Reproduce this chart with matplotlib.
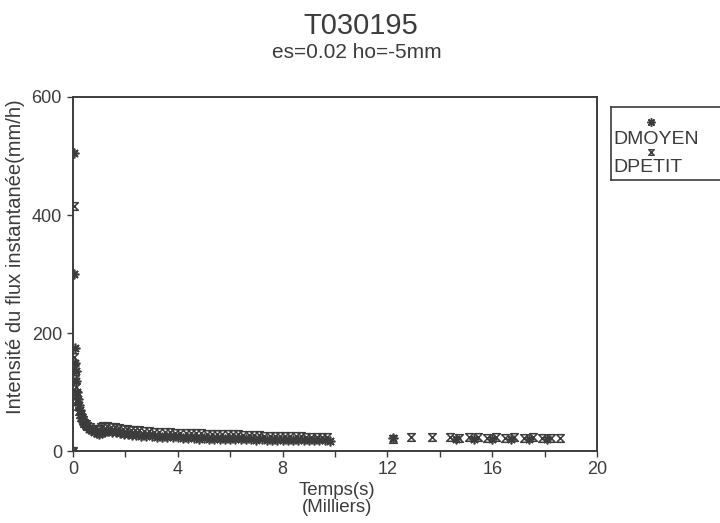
import numpy as np
import matplotlib
matplotlib.use("Agg")
import matplotlib.pyplot as plt
from matplotlib.path import Path

plt.rcParams['font.family'] = ['Liberation Sans', 'DejaVu Sans']

# temps en milliers de secondes, intensite en mm/h
t_moyen = [0.0, 0.02, 0.04, 0.06, 0.08, 0.10, 0.12, 0.15, 0.18, 0.21,
           0.25, 0.3, 0.35, 0.4, 0.45, 0.5, 0.6, 0.7, 0.8, 0.9,
           1.0, 1.1, 1.2, 1.35, 1.5, 1.65, 1.8, 1.95, 2.1, 2.25, 2.4,
           2.6, 2.8, 3.0, 3.2, 3.4, 3.6, 3.8, 4.0, 4.2, 4.4,
           4.6, 4.8, 5.0, 5.2, 5.4, 5.6, 5.8, 6.0, 6.2, 6.4,
           6.6, 6.8, 7.0, 7.2, 7.4, 7.6, 7.8, 8.0, 8.2, 8.4,
           8.6, 8.8, 9.0, 9.2, 9.4, 9.6, 9.8,
           12.2, 14.6, 15.3, 16.0, 16.7, 17.4, 18.1]
i_moyen = [0, 505, 300, 175, 150, 135, 118, 100, 88, 78,
           70, 62, 56, 50, 46, 42, 38, 35, 32, 30,
           29, 30, 33, 34, 33, 32, 30, 29, 28, 27, 27,
           26, 25, 25, 24, 24, 23, 23, 23, 22, 22,
           22, 21, 22, 21, 21, 21, 20, 21, 20, 20,
           20, 20, 19, 20, 19, 19, 19, 19, 19, 18,
           19, 18, 18, 18, 18, 18, 17,
           22, 21, 20, 21, 20, 21, 20]

t_petit = [0.0, 0.03, 0.05, 0.07, 0.09, 0.11, 0.14, 0.17, 0.2, 0.23,
           0.27, 0.32, 0.37, 0.42, 0.48, 0.55, 0.65, 0.75, 0.85, 0.95,
           1.05, 1.15, 1.3, 1.45, 1.6, 1.75, 1.9, 2.05, 2.2, 2.35, 2.5,
           2.7, 2.9, 3.1, 3.3, 3.5, 3.7, 3.9, 4.1, 4.3, 4.5,
           4.7, 4.9, 5.1, 5.3, 5.5, 5.7, 5.9, 6.1, 6.3, 6.5,
           6.7, 6.9, 7.1, 7.3, 7.5, 7.7, 7.9, 8.1, 8.3, 8.5,
           8.7, 8.9, 9.1, 9.3, 9.5, 9.7,
           12.2, 12.9, 13.7,
           14.4, 14.75, 15.1, 15.45, 15.8, 16.15, 16.5, 16.85, 17.2, 17.55,
           17.9, 18.25, 18.6]
i_petit = [0, 415, 160, 140, 122, 108, 95, 85, 76, 68,
           62, 57, 52, 48, 45, 42, 40, 38, 37, 38,
           40, 42, 42, 41, 40, 39, 38, 37, 36, 35, 35,
           34, 34, 33, 33, 32, 32, 31, 31, 31, 30,
           30, 30, 29, 29, 29, 28, 28, 28, 28, 27,
           27, 27, 27, 26, 26, 26, 26, 25, 25, 25,
           25, 24, 24, 24, 24, 23,
           21, 24, 23,
           23, 22, 23, 23, 22, 23, 22, 23, 22, 23,
           22, 22, 22]

xticks = [0, 4, 8, 12, 16, 20]
yticks = [0, 200, 400, 600]

ink = '#3c3c3c'
hourglass = Path([(-1, 1), (1, 1), (-1, -1), (1, -1), (-1, 1)],
                 [Path.MOVETO, Path.LINETO, Path.LINETO, Path.LINETO, Path.CLOSEPOLY])
star = (8, 2, 0)

W, H = 720, 523
fig = plt.figure(figsize=(W / 100, H / 100), dpi=100)
ax = fig.add_axes([73 / W, 1 - 451 / H, 524 / W, 354 / H])

ax.plot(t_moyen, i_moyen, ls='none', marker=star, ms=7, mew=1.2, color=ink)
ax.plot(t_petit, i_petit, ls='none', marker=hourglass, ms=5.5, mew=1.1,
        mfc='none', mec=ink)

ax.set_xlim(0, 20)
ax.set_ylim(0, 600)
ax.set_xticks(xticks)
ax.set_xticks([2, 6, 10, 14, 18], minor=True)
ax.set_yticks(yticks)
ax.tick_params(axis='both', which='both', direction='out', length=4, width=1,
               color=ink, labelcolor=ink, labelsize=13)
ax.tick_params(axis='y', pad=4)
for s in ax.spines.values():
    s.set_color(ink)
    s.set_linewidth(1.4)

fig.text(361 / W, 1 - 26 / H, 'T030195', ha='center', va='center', fontsize=21, color=ink)
fig.text(357 / W, 1 - 52 / H, 'es=0.02 ho=-5mm', ha='center', va='center', fontsize=15, color=ink)
fig.text(337 / W, 1 - 499 / H, 'Temps(s)\n(Milliers)', ha='center', va='center',
         fontsize=13.5, color=ink, linespacing=1.05)
fig.text(16 / W, 1 - 257 / H, 'Intensité du flux instantanée(mm/h)', rotation=90,
         ha='center', va='center', fontsize=14.5, color=ink)

# legende : symbole au-dessus du libelle, cadre coupe a droite
lax = fig.add_axes([611 / W, 1 - 180 / H, 140 / W, 73 / H])
lax.set_xlim(0, 140)
lax.set_ylim(73, 0)
lax.set_xticks([])
lax.set_yticks([])
for s in lax.spines.values():
    s.set_color(ink)
    s.set_linewidth(1.2)
lax.plot([40], [15], ls='none', marker=star, ms=6, mew=1.1, color=ink)
lax.plot([40], [45], ls='none', marker=hourglass, ms=4, mew=1.0, mfc='none', mec=ink)
lax.text(2, 32, 'DMOYEN', ha='left', va='center', fontsize=14, color=ink)
lax.text(2, 61, 'DPETIT', ha='left', va='center', fontsize=14, color=ink)

fig.savefig('out.png', dpi=100)
